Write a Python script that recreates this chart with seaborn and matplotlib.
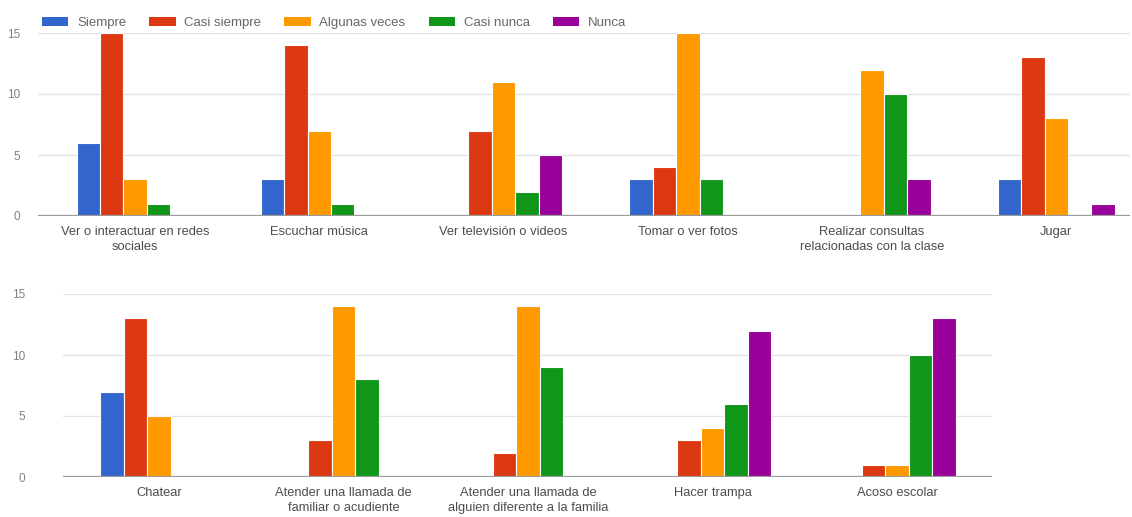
import matplotlib
matplotlib.use("Agg")
import matplotlib.pyplot as plt
import pandas as pd
import seaborn as sns

# Response levels and colours (Google Forms palette)
responses = ["Siempre", "Casi siempre", "Algunas veces", "Casi nunca", "Nunca"]
colors = ["#3366CC", "#DC3912", "#FF9900", "#109618", "#990099"]

# Top chart
top_labels = [
    "Ver o interactuar en redes\nsociales",
    "Escuchar música",
    "Ver televisión o videos",
    "Tomar o ver fotos",
    "Realizar consultas\nrelacionadas con la clase",
    "Jugar",
]
top_siempre = [6, 3, 0, 3, 0, 3]
top_casi_siempre = [15, 14, 7, 4, 0, 13]
top_algunas = [3, 7, 11, 15, 12, 8]
top_casi_nunca = [1, 1, 2, 3, 10, 0]
top_nunca = [0, 0, 5, 0, 3, 1]

# Bottom chart
bottom_labels = [
    "Chatear",
    "Atender una llamada de\nfamiliar o acudiente",
    "Atender una llamada de\nalguien diferente a la familia",
    "Hacer trampa",
    "Acoso escolar",
]
bottom_siempre = [7, 0, 0, 0, 0]
bottom_casi_siempre = [13, 3, 2, 3, 1]
bottom_algunas = [5, 14, 14, 4, 1]
bottom_casi_nunca = [0, 8, 9, 6, 10]
bottom_nunca = [0, 0, 0, 12, 13]

y_ticks = [0, 5, 10, 15]


def long_frame(labels, series):
    rows = []
    for resp, vals in zip(responses, series):
        for lab, v in zip(labels, vals):
            rows.append({"actividad": lab, "respuesta": resp, "valor": v})
    return pd.DataFrame(rows)


def draw_panel(ax, labels, series, ypad):
    df = long_frame(labels, series)
    sns.barplot(
        data=df, x="actividad", y="valor", hue="respuesta",
        order=labels, hue_order=responses, palette=colors,
        width=0.635, edgecolor="white", linewidth=0.8,
        legend=False, ax=ax, errorbar=None, saturation=1,
    )
    ax.set_ylim(0, 15)
    ax.set_yticks(y_ticks)
    ax.yaxis.grid(True, color="#e3e3e3", linewidth=1.0)
    ax.set_axisbelow(True)
    ax.axhline(0, color="#9a9a9a", linewidth=1.6, zorder=5)
    for s in ax.spines.values():
        s.set_visible(False)
    ax.tick_params(axis="both", length=0)
    ax.tick_params(axis="y", pad=ypad, labelsize=8.5, labelcolor="#808080")
    ax.tick_params(axis="x", pad=7, labelsize=9.3, labelcolor="#4d4d4d")
    for t in ax.get_xticklabels():
        t.set_linespacing(1.35)
    ax.set_xlabel("")
    ax.set_ylabel("")


def main() -> None:
    sns.set_theme(style="white")
    plt.rcParams["font.family"] = ["Liberation Sans", "DejaVu Sans"]

    W, H = 1132, 517
    fig = plt.figure(figsize=(W / 100, H / 100), dpi=100)

    # Top axes: x from 38 to 1130 px, y from 33 to 216 px
    ax1 = fig.add_axes([38 / W, 1 - 216 / H, (1130 - 38) / W, (216 - 33) / H])
    draw_panel(ax1, top_labels,
               [top_siempre, top_casi_siempre, top_algunas, top_casi_nunca, top_nunca],
               ypad=13)
    ax1.set_xlim(-0.527, 5.40)

    # Bottom axes: x from 63 to 992 px, y from 294 to 477 px
    ax2 = fig.add_axes([63 / W, 1 - 477 / H, (992 - 63) / W, (477 - 294) / H])
    draw_panel(ax2, bottom_labels,
               [bottom_siempre, bottom_casi_siempre, bottom_algunas,
                bottom_casi_nunca, bottom_nunca],
               ypad=27)
    ax2.set_xlim(-0.52, 4.515)

    handles = [plt.Rectangle((0, 0), 1, 1, facecolor=c, edgecolor="none") for c in colors]
    fig.legend(
        handles, responses, loc="center left",
        bbox_to_anchor=(42 / W, 1 - 23 / H), bbox_transform=fig.transFigure,
        ncol=5, frameon=False, fontsize=9.5, labelcolor="#666666",
        handlelength=2.0, handleheight=0.75, handletextpad=0.65,
        columnspacing=1.75, borderpad=0, borderaxespad=0,
    )

    fig.savefig("out.png", dpi=100)
    plt.close(fig)


if __name__ == "__main__":
    main()
